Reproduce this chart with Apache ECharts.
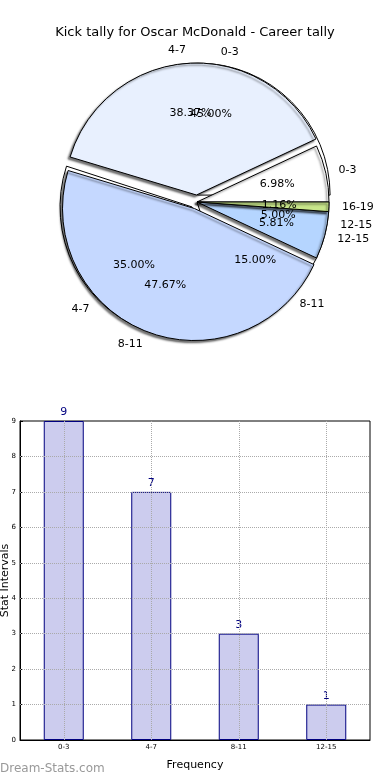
<!DOCTYPE html>
<html><head><meta charset="utf-8">
<script src="https://cdn.jsdelivr.net/npm/echarts@6/dist/echarts.min.js"></script>
<style>html,body{margin:0;padding:0;background:#fff}#c{width:390px;height:780px}</style>
</head><body><div id="c"></div>
<script>
// Pie A: career tally (counts)
const careerCats = ['0-3','4-7','8-11','12-15','16-19'];
const careerVals = [6, 33, 41, 5, 1];
const careerColors = ['#ffffff','#e8f0fe','#c5d8ff','#b5d5ff','#c8e68a'];
const careerExplode = [false, true, true, false, false];
// Pie B / bar chart: season tally
const seasonCats = ['0-3','4-7','8-11','12-15'];
const seasonVals = [9, 7, 3, 1];
const seasonExplode = [true, true, false, false];
const yTicks = [0,1,2,3,4,5,6,7,8,9];

const FONT = 'DejaVu Sans';
const CX = 197, CY = 202, R = 132, OFF = 7;

function pieData(cats, vals, colors, explode){
  return cats.map((c,i)=>({name:c, value:vals[i], selected:explode[i],
    itemStyle: colors ? {color: colors[i]} : undefined}));
}
function pctFmtFor(vals){
  const total = vals.reduce((a,b)=>a+b,0);
  return p => (p.value/total*100).toFixed(2) + '%';
}

const basePie = {
  type:'pie', center:[CX,CY], startAngle:0, clockwise:false,
  avoidLabelOverlap:false, selectedMode:'multiple', selectedOffset:OFF,
  animation:false, silent:true, labelLayout:{hideOverlap:false},
  emphasis:{disabled:true}
};
const outerLabel = {show:true, position:'outside', fontFamily:FONT, fontSize:11, color:'#000',
  distanceToLabelLine:0, formatter:'{b}'};
const outerLine = {show:false, length:Math.round(0.1*R), length2:0};

const series = [
  // Pie B (behind)
  Object.assign({}, basePie, {z:1, radius:[0,R],
    data: pieData(seasonCats, seasonVals, null, seasonExplode),
    itemStyle:{color:'#ffffff', borderColor:'#000', borderWidth:1},
    label: outerLabel, labelLine: outerLine}),
  // Pie A (front)
  Object.assign({}, basePie, {z:2, radius:[0,R],
    data: pieData(careerCats, careerVals, careerColors, careerExplode),
    itemStyle:{borderColor:'#000', borderWidth:1, shadowColor:'rgba(0,0,0,0.55)', shadowBlur:2, shadowOffsetX:-2, shadowOffsetY:2},
    label: outerLabel, labelLine: outerLine}),
  // pct labels B
  Object.assign({}, basePie, {z:3, radius:[0.2*R,R],
    data: pieData(seasonCats, seasonVals, null, seasonExplode),
    itemStyle:{color:'rgba(0,0,0,0)', borderWidth:0},
    label:{show:true, position:'inside', fontFamily:FONT, fontSize:11, color:'#000', formatter:pctFmtFor(seasonVals)},
    labelLine:{show:false}}),
  // pct labels A
  Object.assign({}, basePie, {z:3, radius:[0.2*R,R],
    data: pieData(careerCats, careerVals, null, careerExplode),
    itemStyle:{color:'rgba(0,0,0,0)', borderWidth:0},
    label:{show:true, position:'inside', fontFamily:FONT, fontSize:11, color:'#000', formatter:pctFmtFor(careerVals)},
    labelLine:{show:false}}),
  // Bars
  {type:'bar', xAxisIndex:0, yAxisIndex:0, data:seasonVals, barWidth:40, animation:false, silent:true,
    itemStyle:{color:'#ccccee', borderColor:'#000080', borderWidth:1},
    label:{show:true, position:'top', distance:3, color:'#000080', fontFamily:FONT, fontSize:11},
    markLine:{silent:true, symbol:'none', animation:false, label:{show:false},
      lineStyle:{type:'dotted', color:'#aaaaaa', width:1},
      data: yTicks.slice(1,-1).map(v=>({yAxis:v})).concat(seasonCats.map(c=>({xAxis:c})))}
  }
];

const chart = echarts.init(document.getElementById('c'), null, {renderer:'canvas'});
chart.setOption({
  backgroundColor:'#fff',
  title:{text:'Kick tally for Oscar McDonald - Career tally', left:'center', top:21,
    textStyle:{fontFamily:FONT, fontSize:13, fontWeight:'normal', color:'#000'}},
  grid:{left:20, top:421, width:350, height:319, containLabel:false, outerBoundsMode:'none',
    show:true, borderColor:'#000', borderWidth:1, backgroundColor:'rgba(0,0,0,0)'},
  xAxis:{type:'category', data:seasonCats, name:'Frequency', nameLocation:'middle', nameGap:20,
    nameTextStyle:{fontFamily:FONT, fontSize:11, color:'#000'},
    axisLine:{lineStyle:{color:'#000'}}, axisTick:{alignWithLabel:true, inside:true, length:3, lineStyle:{color:'#000'}},
    axisLabel:{fontFamily:FONT, fontSize:7, color:'#000', margin:4}, splitLine:{show:false}},
  yAxis:{type:'value', min:0, max:9, interval:1, name:'Stat Intervals', nameLocation:'middle', nameGap:9,
    nameMoveOverlap:false,
    nameTextStyle:{fontFamily:FONT, fontSize:11, color:'#000'},
    axisLine:{show:true, lineStyle:{color:'#000'}}, axisTick:{show:true, inside:true, length:3, lineStyle:{color:'#000'}},
    axisLabel:{fontFamily:FONT, fontSize:7, color:'#000', margin:4}, splitLine:{show:false}},
  graphic:[{type:'text', left:0, top:763, style:{text:'Dream-Stats.com', fontFamily:FONT, fontSize:12, fill:'#999999'}}],
  series: series
});
</script></body></html>
